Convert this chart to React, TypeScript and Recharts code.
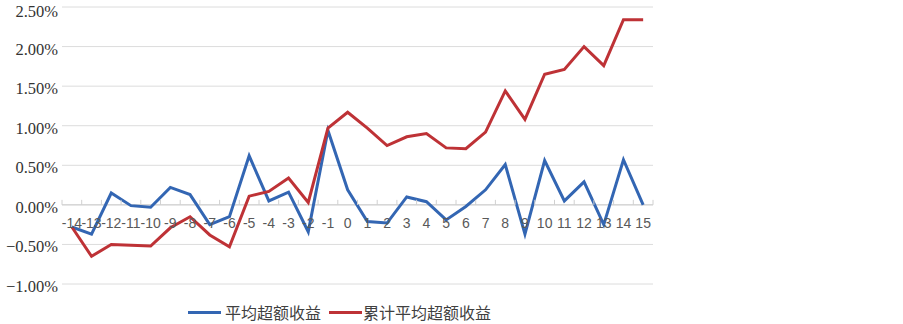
import React from 'react';
import { LineChart, Line, XAxis, YAxis, CartesianGrid, ReferenceLine } from 'recharts';

const categories = [
  '-14', '-13', '-12', '-11', '-10', '-9', '-8', '-7', '-6', '-5', '-4', '-3', '-2', '-1',
  '0', '1', '2', '3', '4', '5', '6', '7', '8', '9', '10', '11', '12', '13', '14', '15',
];

// values in percent
const avgExcess = [
  -0.28, -0.37, 0.15, -0.01, -0.03, 0.22, 0.13, -0.25, -0.15, 0.62, 0.05, 0.16, -0.34, 0.94,
  0.19, -0.21, -0.23, 0.10, 0.04, -0.19, -0.02, 0.19, 0.51, -0.37, 0.56, 0.05, 0.29, -0.25, 0.57, 0.0,
];

const cumExcess = [
  -0.28, -0.65, -0.50, -0.51, -0.52, -0.29, -0.15, -0.38, -0.53, 0.11, 0.17, 0.34, 0.03, 0.97,
  1.17, 0.97, 0.75, 0.86, 0.90, 0.72, 0.71, 0.92, 1.44, 1.08, 1.65, 1.71, 2.00, 1.76, 2.34, 2.34,
];

const yTicks = [-1, -0.5, 0, 0.5, 1, 1.5, 2, 2.5];

const seriesNames = ['平均超额收益', '累计平均超额收益'];
const seriesColors = ['#3366B3', '#BE3236'];

const data = categories.map((c, i) => ({ cat: c, avg: avgExcess[i], cum: cumExcess[i] }));

const W = 903;
const H = 324;
const margin = { top: 7, right: 250, left: 0, bottom: 39 };
const yAxisWidth = 62;
const xAxisHeight = 1;
const yMin = yTicks[0];
const yMax = yTicks[yTicks.length - 1];
const plotHeight = H - margin.top - margin.bottom - xAxisHeight;
const plotWidth = W - margin.left - margin.right - yAxisWidth;
const zeroY = margin.top + (plotHeight * (yMax - 0)) / (yMax - yMin);
const band = plotWidth / categories.length;

const fmt = (v: number) => {
  const s = Math.abs(v).toFixed(2) + '%';
  return v < 0 ? '\u2212' + s : s;
};

const renderXTick = (props: any) => {
  const { x, payload, index } = props;
  const isLast = index === categories.length - 1;
  return (
    <g key={`xt-${index}`}>
      <line x1={x - band / 2} x2={x - band / 2} y1={zeroY - 5} y2={zeroY} stroke="#D0D0D0" strokeWidth={1} />
      {isLast && (
        <line x1={x + band / 2} x2={x + band / 2} y1={zeroY - 5} y2={zeroY} stroke="#D0D0D0" strokeWidth={1} />
      )}
      <text
        x={x}
        y={zeroY + 23}
        textAnchor="middle"
        style={{ fontFamily: "'Liberation Sans', Arial, sans-serif", fontSize: 14 }}
        fill="#595959"
      >
        {payload.value}
      </text>
    </g>
  );
};

const renderYTick = (props: any) => {
  const { x, y, payload, index } = props;
  return (
    <text
      key={`yt-${index}`}
      x={x + 4}
      y={y}
      dy={8}
      textAnchor="end"
      style={{ fontFamily: "'Liberation Serif', 'Times New Roman', serif", fontSize: 16.5 }}
      fill="#333333"
    >
      {fmt(payload.value)}
    </text>
  );
};

export default function App() {
  return (
    <div style={{ position: 'absolute', left: 0, top: 0, width: W, height: H, background: '#fff' }}>
      <LineChart width={W} height={H} data={data} margin={margin}>
        <CartesianGrid vertical={false} stroke="#DCDCDC" strokeWidth={1} />
        <XAxis
          dataKey="cat"
          height={xAxisHeight}
          axisLine={false}
          tickLine={false}
          interval={0}
          padding={{ left: band / 2, right: band / 2 }}
          tick={renderXTick}
        />
        <YAxis
          width={yAxisWidth}
          domain={[yMin, yMax]}
          ticks={yTicks}
          axisLine={false}
          tickLine={false}
          tick={renderYTick}
        />
        <ReferenceLine y={0} stroke="#CFCFCF" strokeWidth={1} />
        <Line
          type="linear"
          dataKey="avg"
          name={seriesNames[0]}
          stroke={seriesColors[0]}
          strokeWidth={3}
          dot={false}
          isAnimationActive={false}
        />
        <Line
          type="linear"
          dataKey="cum"
          name={seriesNames[1]}
          stroke={seriesColors[1]}
          strokeWidth={3}
          dot={false}
          isAnimationActive={false}
        />
      </LineChart>
      <div
        style={{
          position: 'absolute',
          left: 188,
          top: 302,
          display: 'flex',
          alignItems: 'center',
          fontFamily: "'Noto Sans CJK SC', sans-serif",
          fontSize: 16,
          color: '#404040',
          lineHeight: '20px',
          whiteSpace: 'nowrap',
        }}
      >
        <span style={{ display: 'inline-block', width: 33, height: 3, background: seriesColors[0], marginRight: 4 }} />
        <span style={{ marginRight: 8 }}>{seriesNames[0]}</span>
        <span style={{ display: 'inline-block', width: 33, height: 3, background: seriesColors[1], marginRight: 1 }} />
        <span>{seriesNames[1]}</span>
      </div>
    </div>
  );
}
